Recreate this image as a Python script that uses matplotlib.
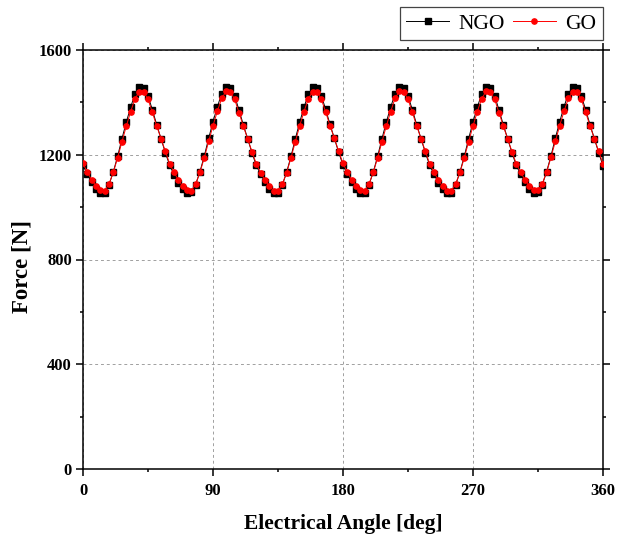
import matplotlib
matplotlib.use("Agg")
import matplotlib.pyplot as plt
import numpy as np
from matplotlib.ticker import MultipleLocator

# Electrical angle (deg), 3-degree steps
angle = list(range(0, 361, 3))

ngo = [
    1160, 1125, 1095, 1070, 1054, 1055, 1085, 1135, 1195, 1262,
    1325, 1382, 1432, 1458, 1455, 1425, 1372, 1315, 1262, 1208,
    1160, 1124, 1094, 1069, 1055, 1056, 1086, 1136, 1196, 1263,
    1326, 1383, 1433, 1459, 1456, 1424, 1371, 1314, 1261, 1207,
    1159, 1125, 1095, 1070, 1054, 1054, 1084, 1134, 1194, 1261,
    1324, 1381, 1431, 1457, 1456, 1426, 1373, 1316, 1263, 1209,
    1161, 1126, 1095, 1070, 1055, 1055, 1085, 1135, 1195, 1262,
    1325, 1382, 1432, 1458, 1455, 1425, 1372, 1315, 1262, 1208,
    1160, 1125, 1094, 1069, 1054, 1055, 1085, 1135, 1195, 1262,
    1325, 1382, 1432, 1459, 1456, 1425, 1371, 1314, 1261, 1207,
    1159, 1125, 1095, 1070, 1055, 1056, 1086, 1136, 1196, 1263,
    1326, 1383, 1433, 1458, 1455, 1424, 1372, 1315, 1262, 1208,
    1158,
]

go = [
    1167, 1133, 1104, 1081, 1064, 1063, 1089, 1133, 1189, 1250,
    1310, 1365, 1414, 1441, 1440, 1412, 1362, 1310, 1262, 1213,
    1166, 1133, 1104, 1080, 1064, 1063, 1089, 1133, 1189, 1251,
    1311, 1366, 1415, 1442, 1441, 1411, 1361, 1309, 1261, 1212,
    1165, 1132, 1103, 1080, 1063, 1062, 1088, 1132, 1188, 1250,
    1310, 1365, 1414, 1441, 1441, 1412, 1363, 1311, 1263, 1214,
    1167, 1134, 1104, 1081, 1064, 1063, 1089, 1133, 1189, 1250,
    1310, 1365, 1415, 1442, 1440, 1412, 1362, 1310, 1262, 1213,
    1166, 1133, 1103, 1080, 1063, 1063, 1089, 1133, 1189, 1250,
    1310, 1365, 1414, 1442, 1441, 1411, 1361, 1309, 1261, 1212,
    1165, 1133, 1104, 1081, 1064, 1064, 1090, 1134, 1190, 1251,
    1311, 1366, 1415, 1441, 1440, 1411, 1362, 1310, 1262, 1213,
    1166,
]

xticks = [0, 90, 180, 270, 360]
yticks = [0, 400, 800, 1200, 1600]

plt.rcParams['font.family'] = ['Liberation Serif', 'DejaVu Serif']

fig = plt.figure(figsize=(6.17, 5.39), dpi=100)
ax = fig.add_axes([83/617, 1-469/539, (603-83)/617, (469-50)/539])

ax.plot(angle, ngo, color='black', lw=0.7, marker='s', ms=3.8,
        mfc='black', mec='black', label='NGO', zorder=3)
ax.plot(angle, go, color='red', lw=0.7, marker='o', ms=3.8,
        mfc='red', mec='red', label='GO', zorder=4)

ax.set_xlim(0, 360)
ax.set_ylim(0, 1600)
ax.set_xticks(xticks)
ax.set_yticks(yticks)
ax.xaxis.set_minor_locator(MultipleLocator(45))
ax.yaxis.set_minor_locator(MultipleLocator(200))

ax.grid(True, which='major', ls=(0, (3, 3)), color='#a0a0a0', lw=0.7)
ax.set_axisbelow(True)

for s in ax.spines.values():
    s.set_linewidth(1.1)

ax.tick_params(which='both', direction='out', top=True, right=True,
               labeltop=False, labelright=False, width=1.1)
ax.tick_params(which='major', length=5)
ax.tick_params(which='minor', length=2.5)
for lab in ax.get_xticklabels() + ax.get_yticklabels():
    lab.set_fontweight('bold')
    lab.set_fontsize(12)
ax.tick_params(axis='x', pad=5)
ax.tick_params(axis='y', pad=3)

ax.set_xlabel('Electrical Angle [deg]', fontsize=15.5, fontweight='bold')
ax.set_ylabel('Force [N]', fontsize=16.5, fontweight='bold')
ax.xaxis.set_label_coords(0.5, -0.108)
ax.yaxis.set_label_coords(-0.098, 0.483)

leg = ax.legend(loc='lower right', bbox_to_anchor=(1.0, 1.0 + 10/419), ncol=2,
                fontsize=15.5, frameon=True, fancybox=False, edgecolor='#444444',
                framealpha=1, handlelength=2.0, handletextpad=0.45,
                columnspacing=0.35, borderpad=0.3, borderaxespad=0.0)
leg.get_frame().set_linewidth(0.9)

fig.savefig('out.png', dpi=100)
